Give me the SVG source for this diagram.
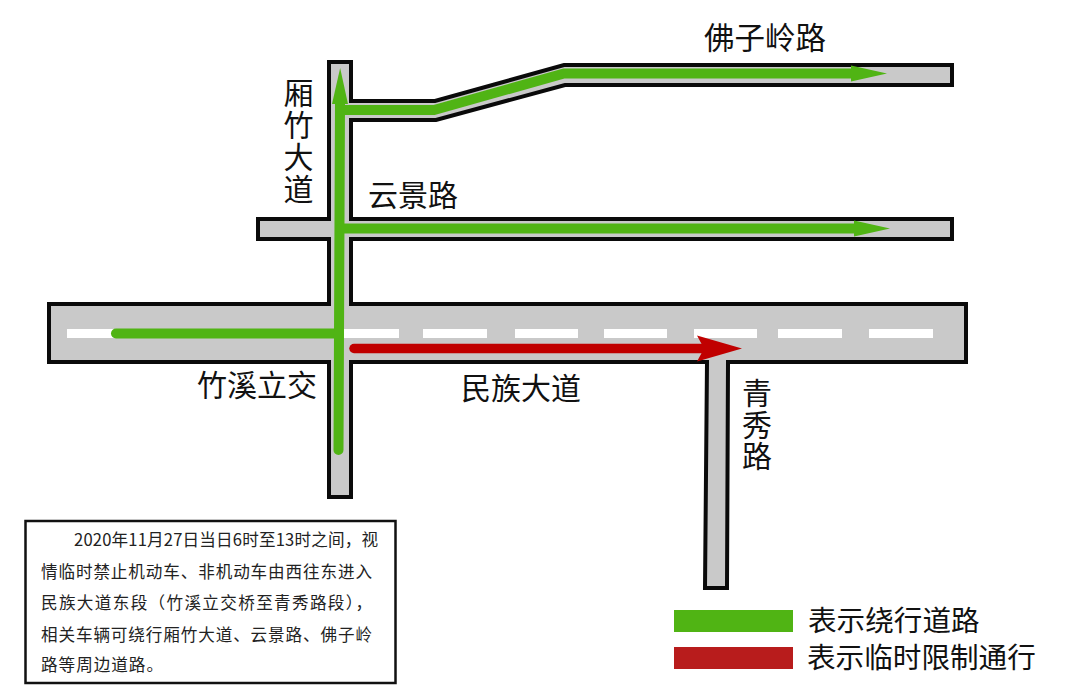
<svg xmlns="http://www.w3.org/2000/svg" width="1079" height="700" viewBox="0 0 1079 700">
<style>
text{font-family:"Noto Sans CJK SC","Noto Sans",sans-serif;fill:#111}
.lbl{font-size:30px}
.vert{writing-mode:vertical-rl}
.note{font-size:16.6px;fill:#222}
.dash{stroke:#fff;stroke-width:9;fill:none}
.g{stroke:#50b414;stroke-width:10;fill:none;stroke-linecap:round;stroke-linejoin:miter}
.r{stroke:#c00000;stroke-width:9.5;fill:none;stroke-linecap:round}
</style>
<defs>
<marker id="ga" markerUnits="userSpaceOnUse" markerWidth="37" markerHeight="18" viewBox="0 0 37 18" refX="0" refY="9" orient="auto"><path d="M0,1L36,9L0,17Z" fill="#50b414"/></marker>
<marker id="ra" markerUnits="userSpaceOnUse" markerWidth="46" markerHeight="28" viewBox="0 0 46 28" refX="7" refY="14" orient="auto"><path d="M0,1L45,14L0,27L7,14Z" fill="#c00000"/></marker>
</defs>
<rect width="1079" height="700" fill="#fff"/>
<g id="roads">
<path id="road-network" fill="#c9c9c9" stroke="#0a0a0a" stroke-width="4" stroke-linejoin="miter" d="M49,304H329V239H258V219H329V62H351V101H435L564,65H952V85H565L436,120H351V219H952V239H351V304H966V362H728L727,588H705L707,362H351V497H329V362H49Z"/>
<path id="lane-dashes" class="dash" d="M67,333.500H125M344,333.500H399M423,333.500H487M515,333.500H578M604,333.500H667M694,333.500H757M778,333.500H842M869,333.500H933"/>
</g>
<g id="connectors">
<path id="route-main" class="g" d="M116,333.500H339"/>
<path id="route-xiangzhu" class="g" d="M338.500,450L340,104" marker-end="url(#ga)"/>
<path id="route-foziling" class="g" d="M341,110H434L564,73.500H851" stroke-linecap="butt" marker-end="url(#ga)"/>
<path id="route-yunjing" class="g" d="M341,228.500H854" marker-end="url(#ga)"/>
<path id="route-restricted" class="r" d="M354,348.500H704" marker-end="url(#ra)"/>
</g>
<g id="label-foziling"><text class="lbl" x="704" y="49" style="font-size:30.500px">佛子岭路</text></g>
<g id="label-xiangzhu"><text class="lbl vert" x="298.500" y="78" letter-spacing="2">厢竹大道</text></g>
<g id="label-yunjing"><text class="lbl" x="368" y="206">云景路</text></g>
<g id="label-zhuxi"><text class="lbl" x="197" y="396">竹溪立交</text></g>
<g id="label-minzu"><text class="lbl" x="461" y="399">民族大道</text></g>
<g id="label-qingxiu"><text class="lbl vert" x="757" y="378" letter-spacing="1.500">青秀路</text></g>
<g id="note">
<rect x="25.500" y="521" width="370" height="162" fill="#fff" stroke="#111" stroke-width="2.500"/>
<text class="note" x="74" y="546" textLength="304" lengthAdjust="spacing">2020年11月27日当日6时至13时之间，视</text>
<text class="note" x="41" y="578" textLength="331" lengthAdjust="spacing">情临时禁止机动车、非机动车由西往东进入</text>
<text class="note" x="41" y="609" textLength="331" lengthAdjust="spacing">民族大道东段（竹溪立交桥至青秀路段），</text>
<text class="note" x="41" y="641" textLength="331" lengthAdjust="spacing">相关车辆可绕行厢竹大道、云景路、佛子岭</text>
<text class="note" x="41" y="671" textLength="122" lengthAdjust="spacing">路等周边道路。</text>
</g>
<g id="legend-detour">
<rect x="674" y="610" width="119" height="22" fill="#50b414"/>
<text x="808" y="631" style="font-size:28.600px">表示绕行道路</text>
</g>
<g id="legend-restricted">
<rect x="674" y="647" width="119" height="22" fill="#b81c1c"/>
<text x="807" y="668" style="font-size:28.600px">表示临时限制通行</text>
</g>
</svg>
